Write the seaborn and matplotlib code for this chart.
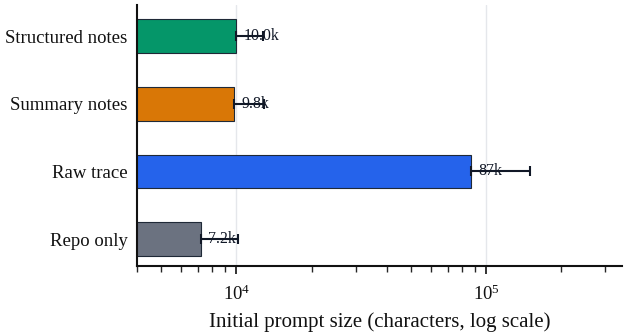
import numpy as np
import pandas as pd
import seaborn as sns
import matplotlib.pyplot as plt

# values
conditions = ["Structured notes", "Summary notes", "Raw trace", "Repo only"]
prompt_chars = [10000, 9800, 87000, 7200]
upper_chars = [12800, 12900, 150000, 10100]
value_labels = ["10.0k", "9.8k", "87k", "7.2k"]
colors = ["#059669", "#d97706", "#2563eb", "#6b7280"]

df = pd.DataFrame({"condition": conditions, "chars": prompt_chars})

sns.set_theme(style="white")
plt.rcParams['font.family'] = ['Liberation Serif', 'DejaVu Serif']
plt.rcParams['mathtext.fontset'] = 'stix'

fig, ax = plt.subplots(figsize=(6.29, 3.36), dpi=100)
fig.subplots_adjust(left=0.218, right=0.989, top=0.985, bottom=0.208)

sns.barplot(data=df, y="condition", x="chars", hue="condition",
            palette=colors, saturation=1, orient="h", width=0.5, dodge=False,
            edgecolor="#1f2937", linewidth=0.8, legend=False, ax=ax, zorder=2)

ypos = np.arange(len(conditions))
lower = np.zeros(len(conditions))
upper = np.array(upper_chars) - np.array(prompt_chars)
ax.errorbar(prompt_chars, ypos, xerr=[lower, upper], fmt="none",
            ecolor="#111827", elinewidth=1.5, capsize=3.5, capthick=1.5, zorder=3)

for y, v, lab in zip(ypos, prompt_chars, value_labels):
    ax.annotate(lab, (v, y), xytext=(5, 0), textcoords="offset points",
                va="center", ha="left", fontsize=11.5, color="#111827", zorder=4)

ax.set_xscale("log")
ax.set_xlim(4000, 350000)
ax.set_ylim(3.4, -0.46)
ax.set_xlabel("Initial prompt size (characters, log scale)", fontsize=15, color="#111111", labelpad=6)
ax.set_ylabel("")
ax.tick_params(axis="y", labelsize=13.5, length=0, pad=7, colors="#111111")
ax.tick_params(axis="x", which="major", labelsize=13.5, length=6, width=1.2, pad=7,
               direction="out", colors="#111111")
ax.tick_params(axis="x", which="minor", length=4, width=1.0, direction="out")
ax.xaxis.set_ticks_position("bottom")
ax.grid(axis="x", which="major", color="#e5e7eb", linewidth=1, zorder=0)
ax.set_axisbelow(True)

sns.despine(ax=ax)
for s in ["left", "bottom"]:
    ax.spines[s].set_color("#111111")
    ax.spines[s].set_linewidth(1.5)

fig.savefig("out.png", dpi=100)
